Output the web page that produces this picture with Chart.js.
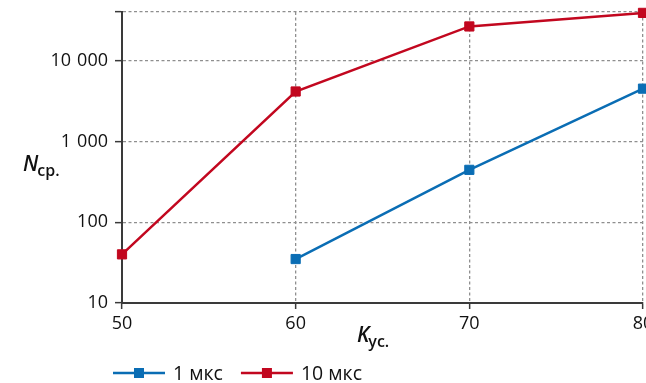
<!DOCTYPE html>
<html>
<head>
<meta charset="utf-8">
<script src="https://cdn.jsdelivr.net/npm/chart.js@4"></script>
<style>
html,body{margin:0;padding:0;background:#fff;overflow:hidden;}
#wrap{position:relative;width:646px;height:383px;overflow:hidden;}
#c{position:absolute;left:0;top:0;}
</style>
</head>
<body>
<div id="wrap"><canvas id="c" width="700" height="383"></canvas></div>
<script>
const xValues = [50, 60, 70, 80];
const series1Label = '1 мкс';
const series1 = [null, 35, 445, 4500];
const series2Label = '10 мкс';
const series2 = [40, 4150, 26500, 39000];
const yTicks = [10, 100, 1000, 10000, 40000];
const yMin = 10, yMax = 40000;
const xMin = 50, xMax = 80, xStep = 10;
const xTitle = ['K', 'ус.'];
const yTitle = ['N', 'ср.'];

const BLUE = '#0a6db4';
const RED = '#c2071f';
const AXIS = '#3a3a3a';
const GRID = '#8f8f8f';
const FONT = '"Open Sans", "Noto Sans", sans-serif';

function fmt(v){ return String(v).replace(/\B(?=(\d{3})+(?!\d))/g, '\u2009\u2009'); }

const titlesPlugin = {
  id: 'titles',
  afterDraw(chart){
    const ctx = chart.ctx;
    const a = chart.chartArea;
    ctx.save();
    ctx.fillStyle = '#111';
    ctx.textBaseline = 'alphabetic';
    ctx.textAlign = 'left';
    // y title
    ctx.font = 'italic 600 21px ' + FONT;
    let x = a.left - 99, y = 171;
    ctx.fillText(yTitle[0], x, y);
    let w = ctx.measureText(yTitle[0]).width;
    ctx.font = '600 16px ' + FONT;
    ctx.fillText(yTitle[1], x + w - 1, y + 5);
    // x title
    ctx.font = 'italic 600 21px ' + FONT;
    x = a.left + 235; y = a.bottom + 39;
    ctx.fillText(xTitle[0], x, y);
    w = ctx.measureText(xTitle[0]).width;
    ctx.font = '600 16px ' + FONT;
    ctx.fillText(xTitle[1], x + w - 1, y + 5);

    // legend
    const ly = a.bottom + 70;
    let lx = a.left - 9;
    chart.data.datasets.forEach((ds) => {
      ctx.strokeStyle = ds.borderColor;
      ctx.lineWidth = 2.5;
      ctx.beginPath();
      ctx.moveTo(lx, ly); ctx.lineTo(lx + 52, ly);
      ctx.stroke();
      ctx.fillStyle = ds.borderColor;
      ctx.fillRect(lx + 21, ly - 5, 10, 10);
      ctx.fillStyle = '#111';
      ctx.font = '19.5px ' + FONT;
      ctx.textBaseline = 'middle';
      ctx.fillText(ds.label, lx + 60, ly + 1);
      lx += 60 + ctx.measureText(ds.label).width + 18;
    });
    ctx.restore();
  }
};

new Chart(document.getElementById('c'), {
  type: 'line',
  data: {
    datasets: [
      {
        label: series1Label,
        data: xValues.map((x, i) => ({x, y: series1[i]})).filter(p => p.y !== null),
        borderColor: BLUE, backgroundColor: BLUE,
        borderWidth: 2.5, pointStyle: 'rect', pointRadius: 6.5, pointBorderWidth: 1,
        pointBackgroundColor: BLUE, pointBorderColor: BLUE, tension: 0
      },
      {
        label: series2Label,
        data: xValues.map((x, i) => ({x, y: series2[i]})),
        borderColor: RED, backgroundColor: RED,
        borderWidth: 2.5, pointStyle: 'rect', pointRadius: 6.5, pointBorderWidth: 1,
        pointBackgroundColor: RED, pointBorderColor: RED, tension: 0
      }
    ]
  },
  options: {
    responsive: false,
    animation: false,
    clip: false,
    layout: { padding: { top: 12, right: 57, bottom: 0, left: 0 } },
    plugins: { legend: { display: false }, tooltip: { enabled: false } },
    scales: {
      x: {
        type: 'linear', min: xMin, max: xMax,
        ticks: { stepSize: xStep, color: '#111', font: { family: FONT, size: 18 }, padding: 4, maxRotation: 0 },
        grid: { color: GRID, lineWidth: 1.3, tickLength: 6, tickColor: AXIS, tickWidth: 1.5, tickBorderDash: [] },
        border: { display: true, color: AXIS, width: 2, dash: [3, 2.5] },
        afterFit(s){ s.height = 80; s.paddingLeft = 0; s.paddingRight = 0; }
      },
      y: {
        type: 'logarithmic', min: yMin, max: yMax,
        afterBuildTicks(s){ s.ticks = yTicks.map(v => ({ value: v })); },
        ticks: {
          color: '#111', font: { family: FONT, size: 18 }, padding: 7, autoSkip: false,
          callback: (v) => (v === yMax ? '' : fmt(v))
        },
        grid: { color: GRID, lineWidth: 1.3, tickLength: 7, tickColor: AXIS, tickWidth: 1.5, tickBorderDash: [] },
        border: { display: true, color: AXIS, width: 2, dash: [3, 2.5] },
        afterFit(s){ s.width = 122; s.paddingTop = 0; s.paddingBottom = 0; }
      }
    }
  },
  plugins: [titlesPlugin]
});
</script>
</body>
</html>
